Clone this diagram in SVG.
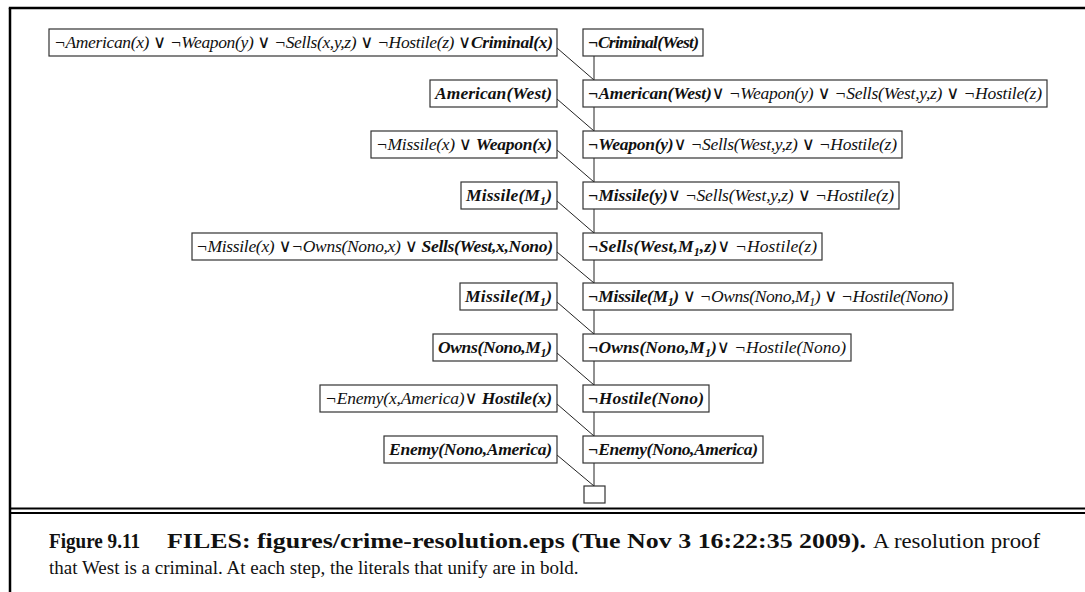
<svg xmlns="http://www.w3.org/2000/svg" width="1085" height="592" viewBox="0 0 1085 592">
<style>
.bx{fill:#fff;stroke:#333;stroke-width:1.2}
.t{font-family:"Liberation Serif","Times New Roman",serif;font-style:italic;font-size:17.5px;fill:#111}
.b{font-weight:bold}
.v{font-family:"DejaVu Sans",sans-serif;font-style:normal;font-weight:normal;font-size:18px}
.s{font-size:12px}
.c{fill:none;stroke:#222;stroke-width:1}
.f{fill:none;stroke:#000}
.cap{font-family:"Liberation Serif","Times New Roman",serif;font-size:19px;fill:#111}
.cap1{font-size:20px}
</style>
<rect x="0" y="0" width="1085" height="592" fill="#fff"/>
<g id="frame">
<line class="f" x1="8.8" y1="8" x2="1085" y2="8" stroke-width="2.5"/>
<line class="f" x1="10" y1="8" x2="10" y2="592" stroke-width="2.5"/>
<line class="f" x1="10" y1="508.5" x2="1085" y2="508.5" stroke-width="1.8"/>
<line class="f" x1="10" y1="513" x2="1085" y2="513" stroke-width="1.8"/>
</g>
<g id="connectors">
<path class="c" d="M557 48 L594 80 M594 56 V80"/>
<path class="c" d="M557 99 L594 131 M594 107 V131"/>
<path class="c" d="M557 150 L594 182 M594 158 V182"/>
<path class="c" d="M557 201 L594 233 M594 209 V233"/>
<path class="c" d="M557 252 L594 283 M594 260 V283"/>
<path class="c" d="M557 302 L594 334 M594 310 V334"/>
<path class="c" d="M557 353 L594 385 M594 361 V385"/>
<path class="c" d="M557 404 L594 436 M594 412 V436"/>
<path class="c" d="M557 455 L594 486 M594 463 V486"/>
</g>
<g id="n1l"><rect class="bx" x="49" y="29" width="508" height="27"/>
<text class="t" x="54" y="48" textLength="499" lengthAdjust="spacing">¬American(x) <tspan class="v">∨</tspan> ¬Weapon(y) <tspan class="v">∨</tspan> ¬Sells(x,y,z) <tspan class="v">∨</tspan> ¬Hostile(z) <tspan class="v">∨</tspan><tspan class="b">Criminal(x)</tspan></text></g>
<g id="n1r"><rect class="bx" x="583" y="29" width="120" height="27"/>
<text class="t b" x="588" y="48" textLength="111" lengthAdjust="spacing">¬Criminal(West)</text></g>
<g id="n2l"><rect class="bx" x="430" y="80" width="127" height="27"/>
<text class="t b" x="435" y="99" textLength="117" lengthAdjust="spacing">American(West)</text></g>
<g id="n2r"><rect class="bx" x="583" y="80" width="464" height="27"/>
<text class="t" x="588" y="99" textLength="454" lengthAdjust="spacing"><tspan class="b">¬American(West)</tspan><tspan class="v">∨</tspan> ¬Weapon(y) <tspan class="v">∨</tspan> ¬Sells(West,y,z) <tspan class="v">∨</tspan> ¬Hostile(z)</text></g>
<g id="n3l"><rect class="bx" x="371" y="131" width="186" height="27"/>
<text class="t" x="376" y="150" textLength="176" lengthAdjust="spacing">¬Missile(x) <tspan class="v">∨</tspan> <tspan class="b">Weapon(x)</tspan></text></g>
<g id="n3r"><rect class="bx" x="583" y="131" width="319" height="27"/>
<text class="t" x="588" y="150" textLength="309" lengthAdjust="spacing"><tspan class="b">¬Weapon(y)</tspan><tspan class="v">∨</tspan> ¬Sells(West,y,z) <tspan class="v">∨</tspan> ¬Hostile(z)</text></g>
<g id="n4l"><rect class="bx" x="461" y="182" width="96" height="27"/>
<text class="t b" x="466" y="201" textLength="86" lengthAdjust="spacing">Missile(M<tspan class="s" dy="4">1</tspan><tspan dy="-4">)</tspan></text></g>
<g id="n4r"><rect class="bx" x="583" y="182" width="316" height="27"/>
<text class="t" x="588" y="201" textLength="306" lengthAdjust="spacing"><tspan class="b">¬Missile(y)</tspan><tspan class="v">∨</tspan> ¬Sells(West,y,z) <tspan class="v">∨</tspan> ¬Hostile(z)</text></g>
<g id="n5l"><rect class="bx" x="192" y="233" width="365" height="27"/>
<text class="t" x="196" y="252" textLength="357" lengthAdjust="spacing">¬Missile(x) <tspan class="v">∨</tspan>¬Owns(Nono,x) <tspan class="v">∨</tspan> <tspan class="b">Sells(West,x,Nono)</tspan></text></g>
<g id="n5r"><rect class="bx" x="583" y="233" width="239" height="27"/>
<text class="t" x="588" y="252" textLength="229" lengthAdjust="spacing"><tspan class="b">¬Sells(West,M<tspan class="s" dy="4">1</tspan><tspan dy="-4">,z)</tspan></tspan><tspan class="v">∨</tspan> ¬Hostile(z)</text></g>
<g id="n6l"><rect class="bx" x="460" y="283" width="97" height="27"/>
<text class="t b" x="465" y="302" textLength="87" lengthAdjust="spacing">Missile(M<tspan class="s" dy="4">1</tspan><tspan dy="-4">)</tspan></text></g>
<g id="n6r"><rect class="bx" x="583" y="283" width="370" height="27"/>
<text class="t" x="588" y="302" textLength="360" lengthAdjust="spacing"><tspan class="b">¬Missile(M<tspan class="s" dy="4">1</tspan><tspan dy="-4">)</tspan></tspan> <tspan class="v">∨</tspan> ¬Owns(Nono,M<tspan class="s" dy="4">1</tspan><tspan dy="-4">)</tspan> <tspan class="v">∨</tspan> ¬Hostile(Nono)</text></g>
<g id="n7l"><rect class="bx" x="433" y="334" width="124" height="27"/>
<text class="t b" x="438" y="353" textLength="114" lengthAdjust="spacing">Owns(Nono,M<tspan class="s" dy="4">1</tspan><tspan dy="-4">)</tspan></text></g>
<g id="n7r"><rect class="bx" x="583" y="334" width="268" height="27"/>
<text class="t" x="588" y="353" textLength="258" lengthAdjust="spacing"><tspan class="b">¬Owns(Nono,M<tspan class="s" dy="4">1</tspan><tspan dy="-4">)</tspan></tspan><tspan class="v">∨</tspan> ¬Hostile(Nono)</text></g>
<g id="n8l"><rect class="bx" x="320" y="385" width="237" height="27"/>
<text class="t" x="325" y="404" textLength="227" lengthAdjust="spacing">¬Enemy(x,America)<tspan class="v">∨</tspan> <tspan class="b">Hostile(x)</tspan></text></g>
<g id="n8r"><rect class="bx" x="583" y="385" width="126" height="27"/>
<text class="t b" x="588" y="404" textLength="116" lengthAdjust="spacing">¬Hostile(Nono)</text></g>
<g id="n9l"><rect class="bx" x="384" y="436" width="173" height="27"/>
<text class="t b" x="389" y="455" textLength="163" lengthAdjust="spacing">Enemy(Nono,America)</text></g>
<g id="n9r"><rect class="bx" x="583" y="436" width="180" height="27"/>
<text class="t b" x="588" y="455" textLength="170" lengthAdjust="spacing">¬Enemy(Nono,America)</text></g>
<g id="empty"><rect class="bx" x="584" y="486" width="21" height="17"/></g>
<g id="caption">
<text class="cap cap1" x="49" y="548" font-weight="bold" textLength="91" lengthAdjust="spacingAndGlyphs">Figure 9.11</text>
<text class="cap cap1" x="167" y="548" font-weight="bold" textLength="699" lengthAdjust="spacingAndGlyphs">FILES: figures/crime-resolution.eps (Tue Nov 3 16:22:35 2009).</text>
<text class="cap cap1" x="873" y="548" textLength="167" lengthAdjust="spacingAndGlyphs">A resolution proof</text>
<text class="cap" x="49" y="574">that West is a criminal. At each step, the literals that unify are in bold.</text>
</g>
</svg>
